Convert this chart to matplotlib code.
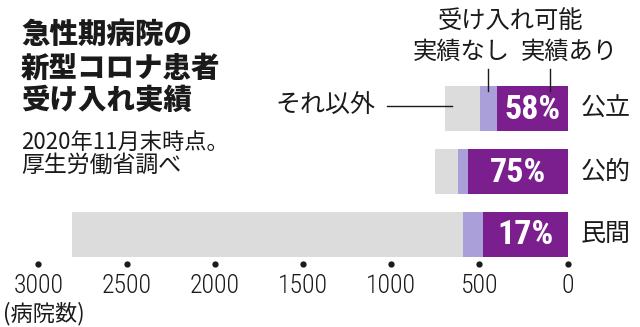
import matplotlib.pyplot as plt
from matplotlib.transforms import blended_transform_factory
import numpy as np

plt.rcParams['font.family'] = ['Noto Sans CJK JP', 'DejaVu Sans']

# 急性期病院数と新型コロナ患者の受け入れ状況
categories = ['公立', '公的', '民間']
total = [695, 752, 2809]      # 病院数
capable = [497, 620, 592]     # 受け入れ可能
share = [58, 75, 17]          # 受け入れ実績あり(%)
ticks = [3000, 2500, 2000, 1500, 1000, 500, 0]

actual = [t * s / 100 for t, s in zip(total, share)]
none_ = [c - a for c, a in zip(capable, actual)]
other = [t - c for t, c in zip(total, capable)]

dark = '#7b1f8e'
light = '#ab9fd9'
gray = '#dcdcdc'
ink = '#1a1a1a'
narrow = ['Roboto Condensed', 'DejaVu Sans']

W, H = 640, 327
fig = plt.figure(figsize=(W / 100, H / 100), dpi=100)


def fx(x):
    return x / W


def fy(y):
    return 1 - y / H


ax = fig.add_axes([fx(38.3), fy(264), (567.7 - 38.3) / W, (264 - 80) / H])
y = np.arange(len(categories))
bh = 0.72
ax.barh(y, actual, height=bh, color=dark, lw=0)
ax.barh(y, none_, left=actual, height=bh, color=light, lw=0)
ax.barh(y, other, left=capable, height=bh, color=gray, lw=0)

ax.set_xlim(3000, 0)
ax.set_ylim(2.475, -0.46)
for s in ax.spines.values():
    s.set_visible(False)
ax.set_yticks([])
ax.set_xticks(ticks)
ax.set_xticklabels([str(t) for t in ticks], family=narrow, fontweight='light',
                   fontsize=18.5, color=ink)
ax.tick_params(axis='x', length=0, pad=7.5)

# 目盛りは点で
trans = blended_transform_factory(ax.transData, ax.transAxes)
ax.plot(ticks, np.zeros(len(ticks)), 'o', ms=3.5, color=ink, transform=trans, clip_on=False)

# 区分名と割合
for i, c in enumerate(categories):
    ax.annotate(c, xy=(1, i), xycoords=('axes fraction', 'data'), xytext=(9.5, 0),
                textcoords='offset points', ha='left', va='center', fontsize=18, color=ink)
    ax.text(actual[i] / 2, i + 0.02, f'{share[i]}%', ha='center', va='center', color='white',
            fontsize=24.5, fontweight='bold', family=narrow)

# 凡例代わりの引き出し線
x_none = (actual[0] + capable[0]) / 2
x_act = actual[0] / 4
ax.plot([x_none, x_none], [-0.635, -0.285], color=ink, lw=1, clip_on=False)
ax.plot([x_act, x_act], [-0.635, -0.285], color=ink, lw=1, clip_on=False)
ax.plot([1024, 656], [-0.04, -0.04], color=ink, lw=1, clip_on=False)
ax.text(1092, -0.04, 'それ以外', ha='right', va='center', fontsize=18, color=ink)

fig.text(fx(510), fy(21), '受け入れ可能', ha='center', va='center', fontsize=17.5, color=ink)
fig.text(fx(461), fy(52), '実績なし', ha='center', va='center', fontsize=17.5, color=ink)
fig.text(fx(569), fy(52), '実績あり', ha='center', va='center', fontsize=17.5, color=ink)

# 見出し
for txt, yy in zip(['急性期病院の', '新型コロナ患者', '受け入れ実績'], [34, 68.5, 100]):
    fig.text(fx(21), fy(yy), txt, ha='left', va='center', fontsize=20.5, fontweight=900, color=ink)
fig.text(fx(21), fy(142), '2020年11月末時点。', ha='left', va='center', fontsize=16, color=ink)
fig.text(fx(21), fy(165), '厚生労働省調べ', ha='left', va='center', fontsize=16.5, color=ink)
fig.text(fx(3), fy(314), '(病院数)', ha='left', va='center', fontsize=16, color=ink)

fig.savefig('out.png', dpi=100)
